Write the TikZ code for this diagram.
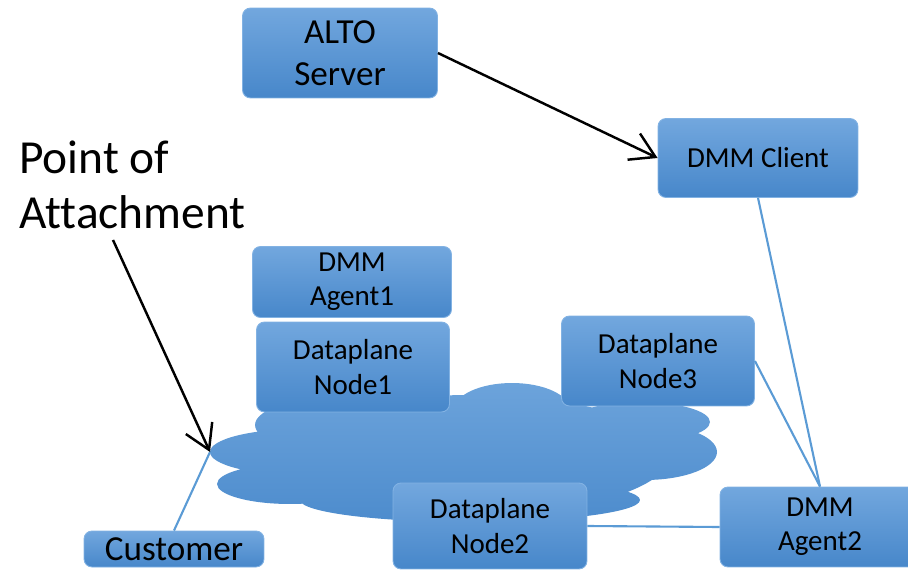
\documentclass[tikz,border=0pt]{standalone}
\usepackage{fontspec}
\setmainfont{Carlito}[Ligatures=NoCommon]
\usetikzlibrary{arrows.meta}
\definecolor{boxtop}{RGB}{114,167,222}
\definecolor{boxbot}{RGB}{71,135,202}
\definecolor{boxedge}{RGB}{130,178,227}
\definecolor{linkblue}{RGB}{91,155,213}
\definecolor{cloudtop}{RGB}{108,163,219}
\definecolor{cloudbot}{RGB}{77,140,205}

\begin{document}
\begin{tikzpicture}[x=0.02cm, y=-0.02cm,
    box/.style={draw=boxedge, line width=0.5pt, rounded corners=0.16cm,
      top color=boxtop, bottom color=boxbot, inner sep=0pt, align=center,
      font=\fontsize{16.5}{19.5}\selectfont},
    link/.style={draw=linkblue, line width=1.2pt},
    pointer/.style={draw=black, line width=1.4pt,
      -{Straight Barb[length=0.48cm, width=0.58cm, line width=1.4pt]}}]
			%%%%% START %%%%%
			\useasboundingbox (0,0) rectangle (908,570);
			
			% the network cloud
			\shade[top color=cloudtop, bottom color=cloudbot]
			  (300,452) ellipse (1.8cm and 0.46cm)
			  (290,484) ellipse (1.46cm and 0.4cm)
			  (470,455) ellipse (4cm and 1.2cm)
			  (512,410) ellipse (1.16cm and 0.54cm)
			  (340,425) ellipse (1.7cm and 0.56cm)
			  (645,452) ellipse (1.44cm and 0.56cm)
			  (640,422) ellipse (1.4cm and 0.4cm)
			  (470,500) ellipse (3.4cm and 0.44cm);
			\coordinate (attach) at (210,452);
			
			% Point of Attachment
			\node[anchor=west, align=left, inner sep=0pt, font=\fontsize{27}{31.5}\selectfont] (poa) at (19,185) {Point of\\Attachment};
			\coordinate (poastart) at (113,240);
			
			% boxes
			\node[box, minimum width=3.9cm, minimum height=1.8cm, font=\fontsize{20}{24}\selectfont] (alto) at (340,53) {ALTO\\Server};
			\node[box, minimum width=4cm, minimum height=1.58cm] (client) at (758,158) {DMM Client};
			\node[box, minimum width=3.98cm, minimum height=1.42cm] (agent1) at (352,282) {DMM\\Agent1};
			\node[box, minimum width=3.86cm, minimum height=1.8cm] (node1) at (353,367) {Dataplane\\Node1};
			\node[box, minimum width=3.86cm, minimum height=1.8cm] (node3) at (658,361) {Dataplane\\Node3};
			\node[box, minimum width=3.88cm, minimum height=1.72cm] (node2) at (490,526) {Dataplane\\Node2};
			\node[box, minimum width=4cm, minimum height=1.6cm] (agent2) at (820,527) {DMM\\Agent2};
			\node[box, minimum width=3.6cm, minimum height=0.72cm, font=\fontsize{20}{24}\selectfont] (customer) at (174,549) {Customer};
			
			% links
			\draw[link] (client.south) -- (agent2.north);
			\draw[link] (node3.east) -- (agent2.north);
			\draw[link] (node2.east) -- (agent2.west);
			\draw[link] (customer.north) -- (attach);
			
			% arrows
			\draw[pointer] (alto.east) -- (client.west);
			\draw[pointer] (poastart) -- (attach);
			%%%%% END %%%%%
\end{tikzpicture}
\end{document}
